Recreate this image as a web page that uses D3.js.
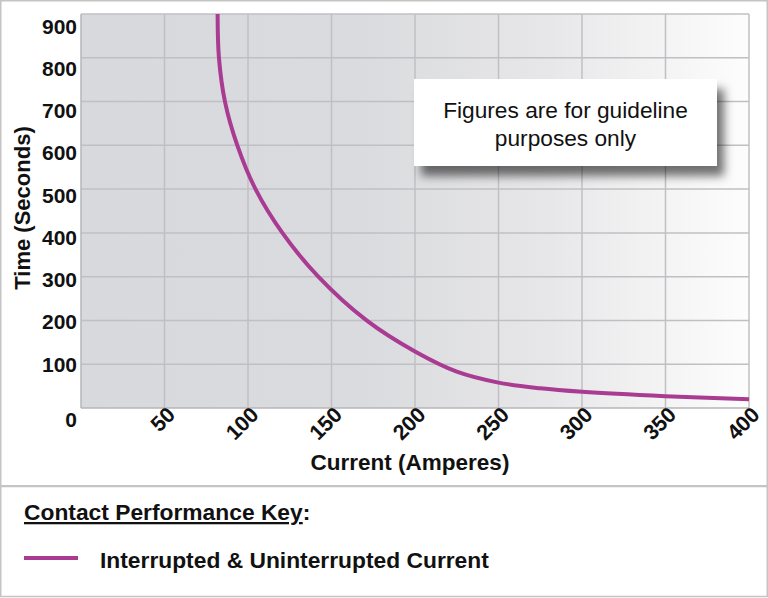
<!DOCTYPE html>
<html>
<head>
<meta charset="utf-8">
<script src="https://cdn.jsdelivr.net/npm/d3@7"></script>
<style>
body { margin: 0; background: #fff; }
svg { display: block; font-family: "Liberation Sans", Arial, sans-serif; }
</style>
</head>
<body>
<div id="chart"></div>
<script>
var width = 768, height = 598;

// curve: current (A) vs time (s)
var current = [81.8, 82.6, 86.2, 93.6, 104.5, 120.6, 142.1, 171, 200, 225, 250, 275, 300, 350, 400];
var seconds = [900, 800, 700, 600, 500, 400, 300, 200, 129, 83, 58, 45, 37, 27, 20];

var xTicks = [50, 100, 150, 200, 250, 300, 350, 400];
var yTicks = [100, 200, 300, 400, 500, 600, 700, 800, 900];

var seriesName = "Interrupted & Uninterrupted Current";
var keyTitle = "Contact Performance Key";
var note = ["Figures are for guideline", "purposes only"];

var purple = "#a93b93";

var margin = {left: 81, right: 19, top: 14, bottom: 190};

var x = d3.scaleLinear().domain([0, 400]).range([margin.left, width - margin.right]);
var y = d3.scaleLinear().domain([0, 900]).range([408, margin.top]);
// tick labels in the picture sit a little off the grid lines
var yLabel = d3.scaleLinear().domain([100, 900]).range([364, 26]);

var svg = d3.select("#chart").append("svg").attr("width", width).attr("height", height);

var defs = svg.append("defs");
var grad = defs.append("linearGradient").attr("id", "bg").attr("x1", 0).attr("x2", 1).attr("y1", 0).attr("y2", 0);
grad.append("stop").attr("offset", "0%").attr("stop-color", "#d8d9dc");
grad.append("stop").attr("offset", "42%").attr("stop-color", "#dadbde");
grad.append("stop").attr("offset", "70%").attr("stop-color", "#e7e7e9");
grad.append("stop").attr("offset", "100%").attr("stop-color", "#fdfdfd");

var shadow = defs.append("filter").attr("id", "shadow")
    .attr("x", "-20%").attr("y", "-30%").attr("width", "150%").attr("height", "180%");
shadow.append("feDropShadow").attr("dx", 7).attr("dy", 10).attr("stdDeviation", 5)
    .attr("flood-color", "#000").attr("flood-opacity", 0.55);

// outer frames
svg.append("rect").attr("x", 0.75).attr("y", 0.75).attr("width", width - 1.5).attr("height", 485)
    .attr("fill", "#fff").attr("stroke", "#c4c4c4").attr("stroke-width", 1.5);
svg.append("rect").attr("x", 0.75).attr("y", 486.5).attr("width", width - 1.5).attr("height", 110)
    .attr("fill", "#fff").attr("stroke", "#c4c4c4").attr("stroke-width", 1.5);

// plot background
svg.append("rect")
    .attr("x", x(0)).attr("y", y(900))
    .attr("width", x(400) - x(0)).attr("height", y(0) - y(900))
    .attr("fill", "url(#bg)");

// grid
svg.append("g").selectAll("line").data(xTicks).enter().append("line")
    .attr("x1", function(d){ return x(d); }).attr("x2", function(d){ return x(d); })
    .attr("y1", y(0)).attr("y2", y(900))
    .attr("stroke", "#c0c0c4").attr("stroke-width", 1.5);

svg.append("g").selectAll("line").data(yTicks).enter().append("line")
    .attr("x1", x(0)).attr("x2", x(400))
    .attr("y1", function(d){ return y(d); }).attr("y2", function(d){ return y(d); })
    .attr("stroke", "#c0c0c4").attr("stroke-width", 1.5);

// axis lines
svg.append("line").attr("x1", x(0)).attr("x2", x(0)).attr("y1", y(0)).attr("y2", y(900))
    .attr("stroke", "#b6b6ba").attr("stroke-width", 1.5);
svg.append("line").attr("x1", x(0)).attr("x2", x(400)).attr("y1", y(0)).attr("y2", y(0))
    .attr("stroke", "#b6b6ba").attr("stroke-width", 1.5);

// y tick labels
svg.append("g").selectAll("text").data(yTicks).enter().append("text")
    .attr("x", 77).attr("y", function(d){ return yLabel(d); })
    .attr("dy", "0.36em")
    .attr("text-anchor", "end")
    .attr("font-size", 21).attr("font-weight", "bold").attr("fill", "#111")
    .text(function(d){ return d; });

svg.append("text")
    .attr("x", 77).attr("y", y(0) + 11).attr("dy", "0.36em")
    .attr("text-anchor", "end")
    .attr("font-size", 21).attr("font-weight", "bold").attr("fill", "#111")
    .text("0");

// x tick labels, rotated
svg.append("g").selectAll("text").data(xTicks).enter().append("text")
    .attr("transform", function(d){ return "translate(" + (x(d) + 12) + "," + (y(0) + 8) + ") rotate(-45)"; })
    .attr("text-anchor", "end")
    .attr("font-size", 21.5).attr("font-weight", "bold").attr("fill", "#111")
    .text(function(d){ return d; });

// axis titles
svg.append("text")
    .attr("transform", "translate(30," + 208 + ") rotate(-90)")
    .attr("text-anchor", "middle")
    .attr("font-size", 22).attr("font-weight", "bold").attr("fill", "#111")
    .text("Time (Seconds)");

svg.append("text")
    .attr("x", 410).attr("y", 470)
    .attr("text-anchor", "middle")
    .attr("font-size", 22.5).attr("font-weight", "bold").attr("fill", "#111")
    .text("Current (Amperes)");

// curve
var data = current.map(function(c, i){ return {a: c, s: seconds[i]}; });

var line = d3.line()
    .x(function(d){ return x(d.a); })
    .y(function(d){ return y(d.s); })
    .curve(d3.curveCatmullRom.alpha(0.5));

svg.append("path").datum(data)
    .attr("d", line)
    .attr("fill", "none")
    .attr("stroke", purple)
    .attr("stroke-width", 4)
    .attr("stroke-linecap", "butt");

// note box
svg.append("rect")
    .attr("x", 414).attr("y", 79).attr("width", 303).attr("height", 87)
    .attr("fill", "#fff").attr("filter", "url(#shadow)");

svg.append("g").selectAll("text").data(note).enter().append("text")
    .attr("x", 565.5).attr("y", function(d, i){ return 118 + i * 28; })
    .attr("text-anchor", "middle")
    .attr("font-size", 22.7).attr("fill", "#111")
    .text(function(d){ return d; });

// key
var key = svg.append("text")
    .attr("x", 24).attr("y", 520)
    .attr("font-size", 22.8).attr("font-weight", "bold").attr("fill", "#111");
key.append("tspan").attr("text-decoration", "underline").text(keyTitle);
key.append("tspan").text(":");

svg.append("line")
    .attr("x1", 24).attr("x2", 78).attr("y1", 558).attr("y2", 558)
    .attr("stroke", purple).attr("stroke-width", 4);

svg.append("text")
    .attr("x", 100).attr("y", 568)
    .attr("font-size", 22.8).attr("font-weight", "bold").attr("fill", "#111")
    .text(seriesName);
</script>
</body>
</html>
